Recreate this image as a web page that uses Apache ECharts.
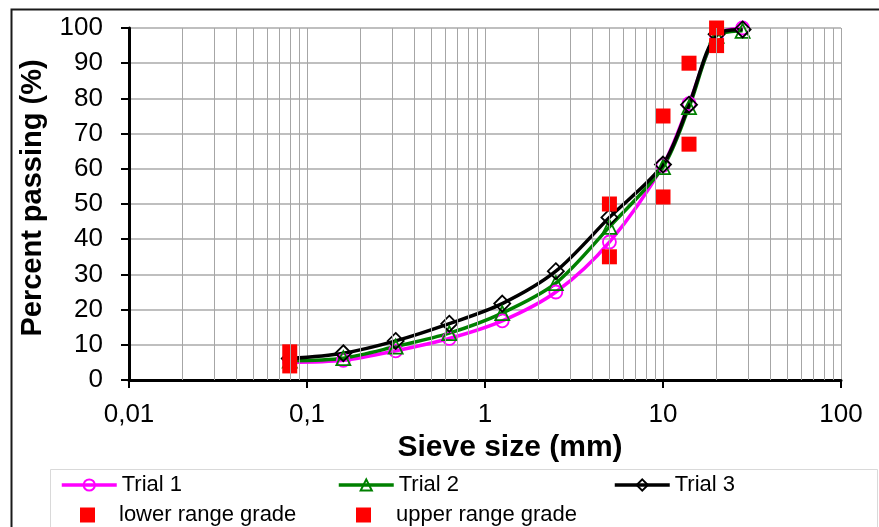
<!DOCTYPE html>
<html>
<head>
<meta charset="utf-8">
<title>Sieve analysis</title>
<script src="https://cdn.jsdelivr.net/npm/echarts@6/dist/echarts.min.js"></script>
<style>
    html, body { margin: 0; padding: 0; background: #fff; }
    #main { width: 879px; height: 527px; }
</style>
</head>
<body>
<div id="main"></div>
<script>
// sieve sizes (mm)
var sieveSizes = [0.08, 0.16, 0.315, 0.63, 1.25, 2.5, 5, 10, 14, 20, 28]
// percent passing for each trial
var trial1 = [5, 5.6, 8.3, 11.8, 16.8, 25, 39.2, 61, 78.5, 98, 100]
var trial2 = [5.5, 6.2, 9.5, 13.3, 19, 27.5, 43.5, 60.5, 77.5, 97.8, 99.2]
var trial3 = [6.1, 7.6, 11.1, 16, 21.7, 30.9, 46.2, 61.2, 78.2, 98.2, 99.6]
// grading envelope
var rangeSizes = [0.08, 5, 10, 14, 20]
var lowerRange = [4, 35, 52, 67, 95]
var upperRange = [8, 50, 75, 90, 100]
// x tick labels and minor log grid lines
var xTicks = [0.01, 0.1, 1, 10, 100]
var minorGridX = []
for (var d = 0; d < 4; d++) {
    for (var m = 2; m <= 9; m++) {
        minorGridX.push(m * xTicks[d])
    }
}

function pairs (xs, ys) {
    var out = []
    for (var i = 0; i < xs.length; i++) {
        out.push([xs[i], ys[i]])
    }
    return out
}

var font = 'Liberation Sans, Arial, sans-serif'
var myChart = echarts.init(document.getElementById('main'), null, { renderer: 'canvas' })

function trialSeries (name, data, color, symbol, size) {
    return {
        name: name,
        type: 'line',
        data: pairs(sieveSizes, data),
        smooth: 0.3,
        symbol: symbol,
        symbolSize: size,
        z: 3,
        lineStyle: { color: color, width: 3.5 },
        itemStyle: { color: 'rgba(0,0,0,0)', borderColor: color, borderWidth: 1.8 },
        emphasis: { disabled: true }
    }
}

function rangeSeries (name, data) {
    return {
        name: name,
        type: 'scatter',
        data: pairs(rangeSizes, data),
        symbol: 'rect',
        symbolSize: 15,
        z: 4,
        itemStyle: { color: '#ff0000', opacity: 1 },
        emphasis: { disabled: true }
    }
}

// one legend per entry so the columns line up like the original
function legendItem (name, left, top, w, h, pad) {
    return {
        data: [name],
        left: left,
        top: top,
        padding: 0,
        itemWidth: w,
        itemHeight: h,
        selectedMode: false,
        lineStyle: { width: 3.5 },
        textStyle: { fontFamily: font, fontSize: 22, color: '#000', padding: [0, 0, 0, pad] }
    }
}

var option = {
    animation: false,
    backgroundColor: '#fff',
    textStyle: { fontFamily: font },
    grid: { left: 129, right: 38, top: 28, bottom: 147 },
    graphic: [
        {
            type: 'rect',
            shape: { x: 11.5, y: 9.5, width: 1000, height: 1000 },
            style: { fill: 'none', stroke: '#1a1a1a', lineWidth: 2 },
            silent: true
        },
        {
            type: 'rect',
            shape: { x: 50.5, y: 469.5, width: 827, height: 100 },
            style: { fill: 'none', stroke: '#d9d9d9', lineWidth: 1 },
            silent: true
        }
    ],
    legend: [
        legendItem('Trial 1', 60, 474, 55, 14, 0),
        legendItem('Trial 2', 337, 474, 55, 14, 0),
        legendItem('Trial 3', 613, 474, 55, 14, 0),
        legendItem('lower range grade', 80, 504, 15, 15, 19),
        legendItem('upper range grade', 356, 504, 15, 15, 20)
    ],
    xAxis: {
        type: 'log',
        logBase: 10,
        min: 0.01,
        max: 100,
        name: 'Sieve size (mm)',
        nameLocation: 'middle',
        nameGap: 41,
        nameTextStyle: { fontFamily: font, fontSize: 30, fontWeight: 'bold', color: '#000', padding: [0, 0, 0, 50] },
        axisLine: { onZero: false, lineStyle: { color: '#000', width: 3 } },
        axisTick: { show: true, length: 8, lineStyle: { color: '#000', width: 2 } },
        axisLabel: {
            margin: 22,
            fontFamily: font,
            fontSize: 26,
            color: '#000',
            formatter: function (v) {
                return String(+v.toPrecision(6)).replace('.', ',')
            }
        },
        splitLine: { show: true, lineStyle: { color: '#a6a6a6', width: 1 } },
        minorTick: { show: false },
        minorSplitLine: { show: false }
    },
    yAxis: {
        type: 'value',
        min: 0,
        max: 100,
        interval: 10,
        name: 'Percent passing (%)',
        nameLocation: 'middle',
        nameGap: 82,
        nameTextStyle: { fontFamily: font, fontSize: 29, fontWeight: 'bold', color: '#000', padding: [0, 0, 0, 12] },
        axisLine: { show: true, lineStyle: { color: '#000', width: 3 } },
        axisTick: { show: true, length: 8, lineStyle: { color: '#000', width: 2 } },
        axisLabel: { margin: 26, fontFamily: font, fontSize: 26, color: '#000' },
        splitLine: { show: true, lineStyle: { color: '#bfbfbf', width: 2 } }
    },
    series: [
        {
            name: 'minor grid',
            type: 'line',
            data: [],
            z: 1,
            silent: true,
            markLine: {
                silent: true,
                symbol: ['none', 'none'],
                label: { show: false },
                lineStyle: { color: '#a6a6a6', width: 1, type: 'solid' },
                emphasis: { disabled: true },
                data: minorGridX.map(function (v) { return { xAxis: v } })
            }
        },
        trialSeries('Trial 1', trial1, '#ff00ff', 'circle', 13),
        trialSeries('Trial 2', trial2, '#008000', 'triangle', 14),
        trialSeries('Trial 3', trial3, '#000000', 'diamond', 16),
        rangeSeries('lower range grade', lowerRange),
        rangeSeries('upper range grade', upperRange)
    ]
}

myChart.setOption(option)
window.onresize = myChart.resize
</script>
</body>
</html>
